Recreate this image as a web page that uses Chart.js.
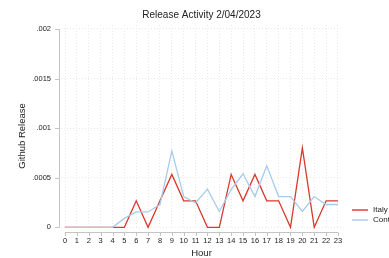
<!DOCTYPE html>
<html>
<head>
<meta charset="utf-8">
<script src="https://cdn.jsdelivr.net/npm/chart.js@4/dist/chart.umd.min.js"></script>
<style>
  html, body { margin: 0; padding: 0; background: #fff; }
  #wrap { width: 389px; height: 258px; }
</style>
</head>
<body>
<div id="wrap"><canvas id="chart" width="389" height="258"></canvas></div>
<script>
// Data
const hours = [0,1,2,3,4,5,6,7,8,9,10,11,12,13,14,15,16,17,18,19,20,21,22,23];
const italy = [0,0,0,0,0,0,.000267,0,.000267,.000533,.000267,.000267,0,0,.000533,.000267,.000533,.000267,.000267,0,.0008,0,.000267,.000267];
const cont = [0,0,0,0,0,.00009,.000155,.000155,.00023,.00077,.00031,.000245,.000385,.00016,.00038,.00054,.00031,.00062,.00031,.00031,.00016,.00031,.00023,.00023];
const yTicks = [0, .0005, .001, .0015, .002];
const yTickLabels = ['0', '.0005', '.001', '.0015', '.002'];

const fontFam = '"Liberation Sans", Arial, Helvetica, sans-serif';
const red = '#d9392c';
const blue = '#a8cbea';

// title, legend and the offset axis lines (Stata style)
const extras = {
    id: 'extras',
    afterDraw(chart) {
        const ctx = chart.ctx;
        const xs = chart.scales.x, ys = chart.scales.y;
        const area = chart.chartArea;
        ctx.save();

        // y axis line + ticks
        ctx.strokeStyle = '#c4c4c4';
        ctx.lineWidth = 1;
        ctx.beginPath();
        ctx.moveTo(59.5, ys.getPixelForValue(.002));
        ctx.lineTo(59.5, ys.getPixelForValue(0));
        yTicks.forEach(v => {
            const y = Math.round(ys.getPixelForValue(v)) + 0.5;
            ctx.moveTo(55, y);
            ctx.lineTo(59.5, y);
        });
        // x axis line + ticks
        ctx.moveTo(xs.getPixelForValue(0), 232.5);
        ctx.lineTo(xs.getPixelForValue(23), 232.5);
        hours.forEach(h => {
            const x = Math.round(xs.getPixelForValue(h)) + 0.5;
            ctx.moveTo(x, 232.5);
            ctx.lineTo(x, 236);
        });
        ctx.stroke();

        // title
        ctx.fillStyle = '#222';
        ctx.font = '10px ' + fontFam;
        ctx.textAlign = 'center';
        ctx.textBaseline = 'middle';
        ctx.fillText('Release Activity 2/04/2023', (area.left + area.right) / 2, 15);

        // axis titles
        ctx.font = '9.5px ' + fontFam;
        ctx.fillText('Hour', (area.left + area.right) / 2, 253);
        ctx.save();
        ctx.translate(22, 136);
        ctx.rotate(-Math.PI / 2);
        ctx.fillText('Github Release', 0, 0);
        ctx.restore();

        // legend
        const items = [['Italy', red, 210], ['Cont', blue, 220]];
        ctx.font = '8px ' + fontFam;
        ctx.textAlign = 'left';
        items.forEach(([label, color, y]) => {
            ctx.strokeStyle = color;
            ctx.lineWidth = 1.4;
            ctx.beginPath();
            ctx.moveTo(352, y);
            ctx.lineTo(368, y);
            ctx.stroke();
            ctx.fillStyle = '#222';
            ctx.fillText(label, 373, y);
        });
        ctx.restore();
    }
};

new Chart(document.getElementById('chart'), {
    type: 'line',
    data: {
        datasets: [
            {
                label: 'Italy',
                data: hours.map((h, i) => ({ x: h, y: italy[i] })),
                borderColor: red,
                borderWidth: 1.3,
                pointRadius: 0,
                tension: 0,
                order: 1
            },
            {
                label: 'Cont',
                data: hours.map((h, i) => ({ x: h, y: cont[i] })),
                borderColor: blue,
                borderWidth: 1.3,
                pointRadius: 0,
                tension: 0,
                order: 0
            }
        ]
    },
    options: {
        responsive: false,
        animation: false,
        layout: { padding: { top: 25, right: 47, left: 0, bottom: 0 } },
        plugins: {
            legend: { display: false },
            title: { display: false },
            tooltip: { enabled: false }
        },
        scales: {
            x: {
                type: 'linear',
                min: -0.34,
                max: 23.34,
                afterFit(scale) { scale.height = 29; },
                afterBuildTicks(scale) {
                    scale.ticks = hours.map(h => ({ value: h }));
                },
                grid: { color: '#e9e9e9', drawTicks: false },
                border: { display: false, dash: [1, 2] },
                ticks: {
                    padding: 7,
                    autoSkip: false,
                    maxRotation: 0,
                    color: '#222',
                    font: { family: fontFam, size: 7.5 },
                    callback: v => String(v)
                }
            },
            y: {
                min: -0.000017,
                max: 0.00204,
                afterFit(scale) { scale.width = 61; },
                afterBuildTicks(scale) {
                    scale.ticks = yTicks.map(v => ({ value: v }));
                },
                grid: { color: '#e9e9e9', drawTicks: false },
                border: { display: false, dash: [1, 2] },
                ticks: {
                    padding: 10,
                    color: '#222',
                    font: { family: fontFam, size: 7.5 },
                    callback: v => yTickLabels[yTicks.indexOf(v)]
                }
            }
        }
    },
    plugins: [extras]
});
</script>
</body>
</html>
